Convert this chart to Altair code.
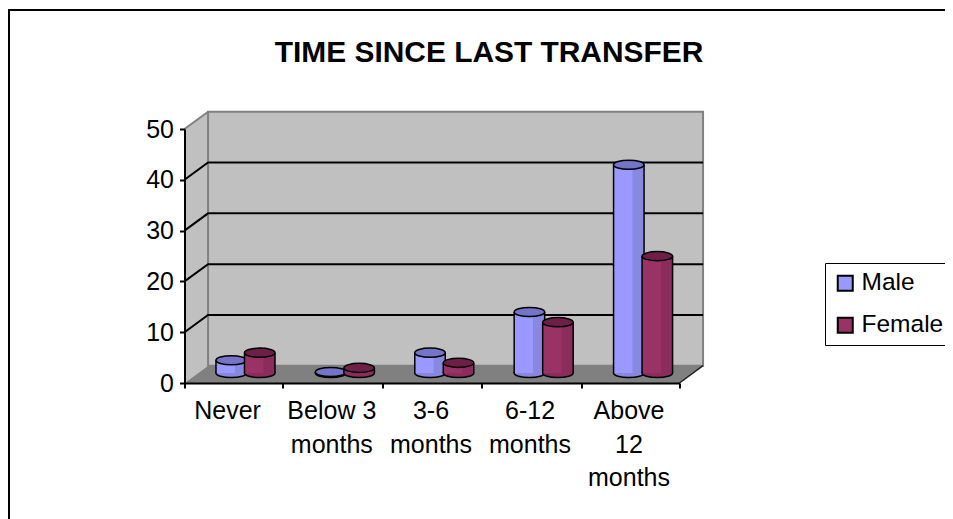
import altair as alt
import pandas as pd

title_text = "TIME SINCE LAST TRANSFER"
categories = ["Never", "Below 3\nmonths", "3-6\nmonths", "6-12\nmonths", "Above\n12\nmonths"]
male = [2.5, 0.2, 4, 12, 41]
female = [4, 1, 2, 10, 23]
y_ticks = [0, 10, 20, 30, 40, 50]
x_ticks = [0, 0.985, 1.995, 3.0, 4.01, 5.0]
label_pos = [0.435, 1.488, 2.49, 3.49, 4.49]
grid_levels = [10, 20, 30, 40]

FONT = "Liberation Sans"
FS = 25
DX, DY = 0.238, 3.4     # 3D depth of the box in axis units
BASE = 1.97             # depth of the cylinders' base above the front edge
W = 0.308

x_scale = alt.Scale(domain=[0, 5], nice=False, zero=False)
y_scale = alt.Scale(domain=[0, 50], nice=False, zero=False)
x_axis = alt.Axis(values=x_ticks, labels=False, grid=False, domainColor="black", domainWidth=2,
                  tickColor="black", tickWidth=2, tickSize=5, zindex=1)
y_axis = alt.Axis(values=y_ticks, grid=False, domainColor="black", domainWidth=2, tickColor="black",
                  tickWidth=2, tickSize=5, labelFont=FONT, labelFontSize=FS, labelColor="black",
                  labelPadding=6, zindex=1)


def xe(field):
    return alt.X(field + ":Q", title=None, scale=x_scale, axis=x_axis)


def ye(field):
    return alt.Y(field + ":Q", title=None, scale=y_scale, axis=y_axis)


X = xe("x")
Y = ye("y")
layers = []

# left wall, back wall, floor
left_wall = pd.DataFrame({"x": [0, DX], "y": [0, DY], "y2": [50, 50 + DY]})
layers.append(alt.Chart(left_wall).mark_area(color="#c0c0c0", interpolate="linear").encode(X, Y, y2="y2:Q"))
back_wall = pd.DataFrame({"x": [DX], "x2": [5 + DX], "y": [DY], "y2": [50 + DY]})
layers.append(alt.Chart(back_wall).mark_rect(color="#c0c0c0", stroke="#808080", strokeWidth=2)
              .encode(X, Y, x2="x2:Q", y2="y2:Q"))
floor = pd.DataFrame({"x": [0, DX, 5, 5 + DX], "y": [0, DY, DY, DY], "y2": [0, 0, 0, DY]})
layers.append(alt.Chart(floor).mark_area(color="#808080", interpolate="linear").encode(X, Y, y2="y2:Q"))

# top edge of left wall
top_edge = pd.DataFrame({"x": [0, DX], "y": [50, 50 + DY]})
layers.append(alt.Chart(top_edge).mark_line(color="#808080", strokeWidth=2).encode(X, Y))
# right floor edge
right_edge = pd.DataFrame({"x": [5, 5 + DX], "y": [0, DY]})
layers.append(alt.Chart(right_edge).mark_line(color="#202020", strokeWidth=1.5).encode(X, Y))

# gridlines running over left wall and back wall
rows = []
for g in grid_levels:
    rows += [{"g": g, "x": 0, "y": g}, {"g": g, "x": DX, "y": g + DY}, {"g": g, "x": 5 + DX, "y": g + DY}]
layers.append(alt.Chart(pd.DataFrame(rows)).mark_line(color="black", strokeWidth=2)
              .encode(X, Y, detail="g:N"))

ELLIPSE = "M-1,0 A1,0.3,0,1,1,1,0 A1,0.3,0,1,1,-1,0 Z"
SIZE = 930

series = [("Male", male, 0.318, "#9999ff", "#8888e0", "#7474c8"),
          ("Female", female, 0.606, "#993366", "#8a2c5c", "#6e1f48")]
color_scale = alt.Scale(domain=["Male", "Female"], range=["#9999ff", "#993366"])
legend = alt.Legend(title=None, orient="none", legendX=640.5, legendY=134, fillColor="white",
                    strokeColor="black", padding=8, symbolType="square", symbolSize=225,
                    symbolStrokeColor="black", symbolStrokeWidth=2, symbolOpacity=1,
                    labelFont=FONT, labelFontSize=24.5, labelColor="black", rowPadding=17, labelOffset=4)

for name, vals, start, col, dark, topc in series:
    df = pd.DataFrame({
        "series": name,
        "x": [start + 1.004 * i for i in range(5)],
        "x2": [start + 1.004 * i + W for i in range(5)],
        "xm": [start + 1.004 * i + W / 2 for i in range(5)],
        "xd": [start + 1.004 * i + W * 0.62 for i in range(5)],
        "y": [BASE + v for v in vals],
        "y0": [BASE] * 5,
    })
    c = alt.Chart(df)
    layers.append(c.mark_point(shape=ELLIPSE, size=SIZE, filled=True, fill=dark, stroke="black",
                               strokeWidth=1.5, opacity=1).encode(xe("xm"), ye("y0")))
    layers.append(c.mark_rect(strokeWidth=0).encode(
        X, Y, x2="x2:Q", y2="y0:Q",
        color=alt.Color("series:N", scale=color_scale, legend=legend)))
    layers.append(c.mark_rect(color=dark, strokeWidth=0).encode(xe("xd"), Y, x2="x2:Q", y2="y0:Q"))
    layers.append(c.mark_rule(color="black", strokeWidth=1.5).encode(X, Y, y2="y0:Q"))
    layers.append(c.mark_rule(color="black", strokeWidth=1.5).encode(xe("x2"), Y, y2="y0:Q"))
    layers.append(c.mark_point(shape=ELLIPSE, size=SIZE, filled=True, fill=topc, stroke="black",
                               strokeWidth=1.5, opacity=1).encode(xe("xm"), Y))

# category labels
labels = pd.DataFrame({"x": label_pos, "label": categories})
layers.append(alt.Chart(labels).mark_text(font=FONT, fontSize=FS, color="black", baseline="top",
                                          align="center", lineBreak="\n", lineHeight=33.5)
              .encode(X, y=alt.value(270), text="label:N"))

# outer frame (its right and bottom edges fall outside the picture)
frame = pd.DataFrame({"a": [0]})
layers.append(alt.Chart(frame).mark_rule(color="black", strokeWidth=2)
              .encode(x=alt.value(-175.5), y=alt.value(-120), y2=alt.value(400)))
layers.append(alt.Chart(frame).mark_rule(color="black", strokeWidth=2)
              .encode(x=alt.value(-176.5), x2=alt.value(800), y=alt.value(-119)))

# chart title
layers.append(alt.Chart(pd.DataFrame({"t": [title_text]})).mark_text(
    font=FONT, fontSize=29.9, fontWeight="bold", color="black", align="center", baseline="middle")
    .encode(x=alt.value(304.5), y=alt.value(-76), text="t:N"))

chart = alt.layer(*layers).properties(
    width=495, height=254,
    padding={"left": 176.5, "top": 121, "right": 265.5, "bottom": 136},
    autosize=alt.AutoSizeParams(type="none"),
    background="white",
).configure_view(strokeWidth=0)

chart.save("out.html", embed_options={"renderer": "svg", "actions": False})
